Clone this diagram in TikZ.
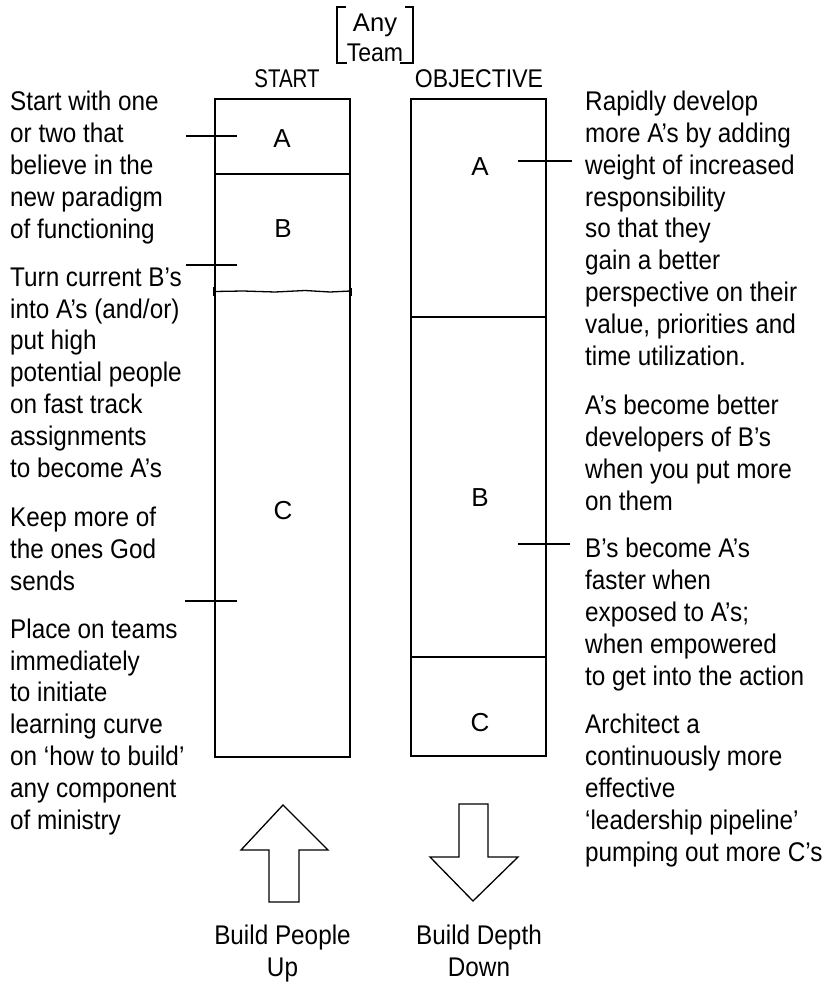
\documentclass[tikz,border=0pt]{standalone}
\usepackage{fontspec}
\setmainfont{Liberation Sans}
\newfontfamily\bodyfont[FakeStretch=0.9]{Liberation Sans}
\newfontfamily\narrowfont[FakeStretch=0.8]{Liberation Sans}

\begin{document}
\begin{tikzpicture}[x=1pt,y=-1pt,
  frame/.style={line width=1.3pt},
  tickmark/.style={line width=1.8pt},
  column/.style={draw, frame, inner sep=0pt},
  % multi-line notes are placed by the baseline of their last line
  note/.style={anchor=base west, align=left, inner sep=0pt,
    font=\bodyfont\fontsize{27}{31.8}\selectfont},
  letter/.style={anchor=base, inner sep=0pt, font=\fontsize{26}{30}\selectfont},
  head/.style={anchor=base, inner sep=0pt, font=\fontsize{25.6}{30}\selectfont},
  caption/.style={anchor=base, align=center, inner sep=0pt,
    font=\bodyfont\fontsize{27}{32}\selectfont},
  bigarrow/.style={line width=1.3pt, line join=miter}]

\useasboundingbox (0,0) rectangle (836,982);

% the two columns
\node[column, minimum width=135pt, minimum height=658pt] (startbox) at (282.5,428) {};
\node[column, minimum width=135pt, minimum height=657pt] (objbox) at (478.5,427.5) {};

% dividers
\draw[frame] (startbox.west |- 0,174) -- (startbox.east |- 0,174);
\draw[frame] (startbox.west |- 0,291.5) -- (243,291) -- (275,292) -- (305,290.5)
  -- (330,292) -- (startbox.east |- 0,291);
\draw[line width=2pt] (startbox.west |- 0,287) -- (startbox.west |- 0,296);
\draw[line width=2pt] (startbox.east |- 0,287.5) -- (startbox.east |- 0,296);
\draw[frame] (objbox.west |- 0,317) -- (objbox.east |- 0,317);
\draw[frame] (objbox.west |- 0,657) -- (objbox.east |- 0,657);

% pointers from the notes
\draw[tickmark] (186,136) -- (237,136);
\draw[tickmark] (186,265) -- (237,265);
\draw[tickmark] (185,601) -- (237,601);
\draw[tickmark] (518,161) -- (572,161);
\draw[tickmark] (518,544) -- (570,544);

% headings
\node[head] (anyl) at (375,32) {Any};
\node[head] (teaml) at (375,62) {\bodyfont Team};
\draw[line width=1.1pt] (346,7) -- (337,7) -- (337,63) -- (347,63);
\draw[line width=1.1pt] (405,7) -- (413,7) -- (413,63) -- (400,63);
\node[head] (startl) at (287,88) {\narrowfont START};
\node[head] (objl) at (479,88) {\bodyfont OBJECTIVE};

% column contents
\node[letter] (la) at (282,147) {A};
\node[letter] (lb) at (283,237) {B};
\node[letter] (lc) at (283,519) {C};
\node[letter] (ra) at (480,175) {A};
\node[letter] (rb) at (480,506) {B};
\node[letter] (rc) at (480,731) {C};

% notes on the left
\node[note] (s1) at (10,238) {Start with one\\or two that\\believe in the\\new paradigm\\of functioning};
\node[note] (s2) at (10,477) {Turn current B’s\\into A’s (and/or)\\put high\\potential people\\on fast track\\assignments\\to become A’s};
\node[note] (s3) at (10,590) {Keep more of\\the ones God\\sends};
\node[note] (s4) at (10,829) {Place on teams\\immediately\\to initiate\\learning curve\\on ‘how to build’\\any component\\of ministry};

% notes on the right
\node[note] (o1) at (585,365) {Rapidly develop\\more A’s by adding\\weight of increased\\responsibility\\so that they\\gain a better\\perspective on their\\value, priorities and\\time utilization.};
\node[note] (o2) at (585,510) {A’s become better\\developers of B’s\\when you put more\\on them};
\node[note] (o3) at (585,685) {B’s become A’s\\faster when\\exposed to A’s;\\when empowered\\to get into the action};
\node[note] (o4) at (585,861) {Architect a\\continuously more\\effective\\‘leadership pipeline’\\pumping out more C’s};

% block arrows
\draw[bigarrow] (283,805) -- (328,850) -- (299,850) -- (299,902) -- (269,902)
  -- (269,850) -- (241,850) -- cycle;
\draw[bigarrow] (459,804) -- (488,804) -- (488,857) -- (518,857) -- (473,901)
  -- (430,857) -- (459,857) -- cycle;
\node[caption] (upl) at (282.5,976) {Build People\\Up};
\node[caption] (downl) at (479,976) {Build Depth\\Down};
\end{tikzpicture}
\end{document}
